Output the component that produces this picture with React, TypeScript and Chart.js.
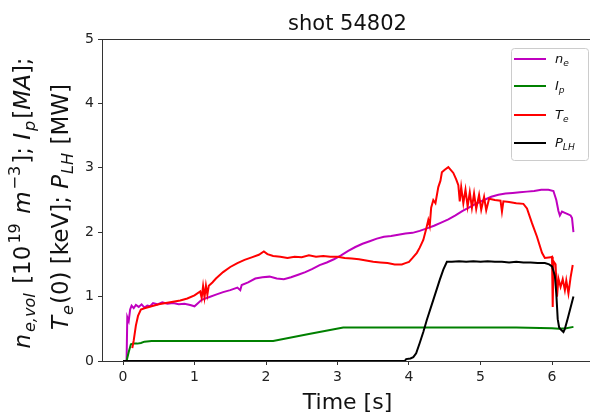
import React, { useEffect, useRef } from 'react';
import { Chart, registerables } from 'chart.js';

Chart.register(...registerables);

// ---------- data ----------
const xTicks = [0, 1, 2, 3, 4, 5, 6];
const yTicks = [0, 1, 2, 3, 4, 5];

const neTime = [0.05,0.06,0.08,0.10,0.12,0.15,0.18,0.22,0.26,0.30,0.34,0.38,0.42,0.48,0.55,0.62,0.70,0.78,0.86,0.94,1.00,1.04,1.10,1.20,1.30,1.40,1.50,1.60,1.64,1.66,1.75,1.85,1.95,2.05,2.15,2.25,2.35,2.45,2.55,2.65,2.75,2.85,2.95,3.05,3.15,3.25,3.35,3.45,3.55,3.65,3.75,3.85,3.95,4.05,4.15,4.25,4.35,4.45,4.55,4.65,4.75,4.85,4.95,5.05,5.15,5.25,5.35,5.45,5.55,5.65,5.75,5.85,5.95,6.02,6.06,6.09,6.11,6.14,6.18,6.22,6.26,6.28,6.30];
const neValues = [0,0.68,0.62,0.80,0.86,0.82,0.87,0.84,0.88,0.83,0.86,0.85,0.90,0.88,0.91,0.89,0.90,0.88,0.89,0.87,0.85,0.89,0.95,0.99,1.03,1.07,1.10,1.14,1.10,1.18,1.22,1.28,1.30,1.31,1.28,1.27,1.30,1.34,1.38,1.43,1.49,1.53,1.58,1.64,1.71,1.77,1.82,1.86,1.90,1.93,1.94,1.96,1.98,1.99,2.02,2.06,2.10,2.15,2.20,2.26,2.33,2.39,2.45,2.50,2.55,2.58,2.60,2.61,2.62,2.63,2.64,2.66,2.66,2.64,2.50,2.33,2.26,2.32,2.30,2.28,2.26,2.22,2.00];

const ipTime = [0,0.05,0.08,0.11,0.15,0.20,0.25,0.30,0.40,1.00,1.50,2.10,2.60,3.08,3.50,4.00,4.50,5.00,5.50,6.00,6.10,6.20,6.30];
const ipValues = [0,0,0.14,0.26,0.27,0.27,0.28,0.30,0.31,0.31,0.31,0.31,0.42,0.52,0.52,0.52,0.52,0.52,0.52,0.51,0.50,0.51,0.53];

const teTime = [0.13,0.15,0.18,0.21,0.25,0.30,0.40,0.50,0.60,0.70,0.80,0.90,1.00,1.08,1.10,1.12,1.14,1.16,1.18,1.20,1.25,1.30,1.40,1.50,1.60,1.70,1.80,1.90,1.97,2.02,2.10,2.20,2.30,2.40,2.50,2.60,2.70,2.80,2.90,3.00,3.10,3.20,3.30,3.40,3.50,3.60,3.70,3.80,3.90,3.95,4.00,4.05,4.11,4.15,4.20,4.24,4.27,4.29,4.31,4.34,4.37,4.41,4.44,4.46,4.50,4.55,4.62,4.66,4.69,4.71,4.73,4.76,4.79,4.82,4.85,4.88,4.91,4.94,4.98,5.01,5.05,5.08,5.12,5.20,5.28,5.30,5.32,5.40,5.50,5.60,5.65,5.72,5.79,5.86,5.90,5.98,6.00,6.01,6.02,6.05,6.07,6.09,6.12,6.15,6.18,6.20,6.23,6.26,6.29];
const teValues = [0.20,0.32,0.55,0.70,0.80,0.82,0.85,0.88,0.90,0.92,0.94,0.97,1.02,1.08,0.98,1.16,0.99,1.17,1.03,1.17,1.22,1.28,1.38,1.46,1.52,1.57,1.61,1.65,1.70,1.66,1.63,1.62,1.60,1.62,1.61,1.64,1.62,1.63,1.62,1.62,1.60,1.59,1.58,1.56,1.54,1.53,1.52,1.50,1.50,1.52,1.54,1.60,1.68,1.76,1.88,2.05,2.19,2.10,2.38,2.50,2.45,2.70,2.80,2.93,2.97,3.01,2.92,2.82,2.73,2.48,2.70,2.45,2.66,2.40,2.62,2.38,2.60,2.36,2.58,2.35,2.55,2.34,2.52,2.50,2.49,2.32,2.48,2.47,2.45,2.44,2.37,2.14,1.93,1.68,1.60,1.61,1.62,0.84,1.55,1.50,1.00,1.28,1.15,1.27,1.10,1.25,1.05,1.30,1.49];

const plhTime = [0,3.94,3.96,4.02,4.06,4.10,4.15,4.20,4.25,4.34,4.43,4.48,4.53,4.60,4.70,4.80,4.90,5.00,5.10,5.20,5.30,5.40,5.50,5.60,5.70,5.80,5.90,5.96,6.00,6.02,6.04,6.06,6.08,6.10,6.13,6.16,6.18,6.22,6.26,6.30];
const plhValues = [0,0,0.03,0.04,0.06,0.12,0.28,0.45,0.64,0.95,1.26,1.42,1.54,1.54,1.55,1.54,1.55,1.54,1.55,1.54,1.54,1.53,1.54,1.53,1.53,1.52,1.52,1.50,1.47,1.40,1.32,1.05,0.65,0.52,0.48,0.45,0.50,0.66,0.83,1.00];

const seriesNames = ['n_e', 'I_p', 'T_e', 'P_LH'];
const seriesColors = ['#bf00bf', '#008000', '#ff0000', '#000000'];

// ---------- layout ----------
const W = 610;
const H = 412;
const AREA = { left: 102, right: 593, top: 39, bottom: 361 };
const FONT = '"DejaVu Sans", sans-serif';

type Seg = { t: string; it?: boolean; sub?: boolean; sup?: boolean };

function drawRich(ctx: CanvasRenderingContext2D, segs: Seg[], base: number, x0: number, y0: number, align: 'center' | 'left', scriptGap = 0) {
  const items = segs.map((s) => {
    const size = s.sub || s.sup ? base * 0.7 : base;
    const font = `${s.it ? 'italic ' : ''}${size}px ${FONT}`;
    ctx.font = font;
    const gap = s.sub || s.sup ? scriptGap : 0;
    return { ...s, font, w: ctx.measureText(s.t).width, gap };
  });
  const total = items.reduce((a, b) => a + b.w + 2 * b.gap, 0);
  let x = align === 'center' ? x0 - total / 2 : x0;
  ctx.textAlign = 'left';
  ctx.textBaseline = 'alphabetic';
  for (const it of items) {
    ctx.font = it.font;
    x += it.gap;
    const dy = it.sub ? base * 0.22 : it.sup ? -base * 0.42 : 0;
    ctx.fillText(it.t, x, y0 + dy);
    x += it.w + it.gap;
  }
}

const yLine1: Seg[] = [
  { t: 'n', it: true }, { t: 'e,vol', it: true, sub: true }, { t: ' [10' }, { t: '19', sup: true },
  { t: ' ' }, { t: 'm', it: true }, { t: '\u22123', sup: true }, { t: ']; ' }, { t: 'I', it: true },
  { t: 'p', it: true, sub: true }, { t: '[' }, { t: 'MA', it: true }, { t: '];' },
];
const yLine2: Seg[] = [
  { t: 'T', it: true }, { t: 'e', it: true, sub: true }, { t: '(0) [keV]; ' }, { t: 'P', it: true },
  { t: 'LH', it: true, sub: true }, { t: ' [MW]' },
];
const legendLabels: Seg[][] = [
  [{ t: 'n', it: true }, { t: 'e', it: true, sub: true }],
  [{ t: 'I', it: true }, { t: 'p', it: true, sub: true }],
  [{ t: 'T', it: true }, { t: 'e', it: true, sub: true }],
  [{ t: 'P', it: true }, { t: 'LH', it: true, sub: true }],
];

const decorPlugin = {
  id: 'decor',
  afterDraw(chart: any) {
    const ctx: CanvasRenderingContext2D = chart.ctx;
    const ca = chart.chartArea;
    ctx.save();
    // top and right spines
    ctx.strokeStyle = '#333';
    ctx.lineWidth = 1;
    ctx.beginPath();
    ctx.moveTo(ca.left, Math.round(ca.top) + 0.5);
    ctx.lineTo(ca.right, Math.round(ca.top) + 0.5);
    ctx.stroke();
    ctx.beginPath();
    ctx.moveTo(Math.round(ca.right) + 0.5, ca.top);
    ctx.lineTo(Math.round(ca.right) + 0.5, ca.bottom);
    ctx.stroke();

    ctx.fillStyle = '#111';
    // title
    ctx.font = `21px ${FONT}`;
    ctx.textAlign = 'center';
    ctx.textBaseline = 'alphabetic';
    ctx.fillText('shot 54802', (ca.left + ca.right) / 2, 30);
    // x title
    ctx.font = `22px ${FONT}`;
    ctx.fillText('Time [s]', (ca.left + ca.right) / 2, 409);

    // y title
    ctx.save();
    ctx.translate(30, 203);
    ctx.rotate(-Math.PI / 2);
    drawRich(ctx, yLine1, 23, 0, 0, 'center', 2);
    ctx.restore();
    ctx.save();
    ctx.translate(68, 207);
    ctx.rotate(-Math.PI / 2);
    drawRich(ctx, yLine2, 23, 0, 0, 'center', 1);
    ctx.restore();

    // legend
    const bx = 511.5, by = 48.5, bw = 77, bh = 112;
    ctx.beginPath();
    (ctx as any).roundRect(bx, by, bw, bh, 3);
    ctx.fillStyle = 'rgba(255,255,255,0.85)';
    ctx.fill();
    ctx.strokeStyle = '#cccccc';
    ctx.lineWidth = 1;
    ctx.stroke();
    const rows = [59, 86, 115, 143];
    rows.forEach((ry, i) => {
      ctx.strokeStyle = seriesColors[i];
      ctx.lineWidth = 2;
      ctx.beginPath();
      ctx.moveTo(514, ry);
      ctx.lineTo(546, ry);
      ctx.stroke();
      ctx.fillStyle = '#111';
      drawRich(ctx, legendLabels[i], 13, 555, ry + 4, 'left');
    });
    ctx.restore();
  },
};

function zip(t: number[], v: number[]) {
  const n = Math.min(t.length, v.length);
  const out: { x: number; y: number }[] = [];
  for (let i = 0; i < n; i++) out.push({ x: t[i], y: v[i] });
  return out;
}

export default function App() {
  const ref = useRef<HTMLCanvasElement | null>(null);
  useEffect(() => {
    if (!ref.current) return;
    const tickFont = { family: FONT, size: 14 };
    const mk = (i: number, t: number[], v: number[], order: number) => ({
      label: seriesNames[i],
      data: zip(t, v),
      borderColor: seriesColors[i],
      backgroundColor: seriesColors[i],
      borderWidth: 2,
      pointRadius: 0,
      tension: 0,
      fill: false,
      order,
    });
    const chart = new Chart(ref.current, {
      type: 'line',
      data: {
        datasets: [
          mk(0, neTime, neValues, 4),
          mk(1, ipTime, ipValues, 3),
          mk(2, teTime, teValues, 2),
          mk(3, plhTime, plhValues, 1),
        ],
      },
      options: {
        responsive: false,
        animation: false,
        devicePixelRatio: 1,
        parsing: false,
        layout: { padding: { left: 0, top: AREA.top, right: W - AREA.right, bottom: 0 } },
        plugins: { legend: { display: false }, tooltip: { enabled: false }, title: { display: false } },
        scales: {
          x: {
            type: 'linear',
            min: (AREA.left - 123) / 71.5,
            max: (AREA.right - 123) / 71.5,
            afterBuildTicks: (s: any) => { s.ticks = xTicks.map((v) => ({ value: v })); },
            afterFit: (s: any) => { s.height = H - AREA.bottom; },
            grid: { drawOnChartArea: false, drawTicks: true, tickLength: 4, color: '#333' },
            border: { color: '#333', width: 1 },
            ticks: { font: tickFont, color: '#222', padding: 4, maxRotation: 0, autoSkip: false, callback: (v: any) => String(v) },
          },
          y: {
            type: 'linear',
            min: 0,
            max: 5,
            afterBuildTicks: (s: any) => { s.ticks = yTicks.map((v) => ({ value: v })); },
            afterFit: (s: any) => { s.width = AREA.left; },
            grid: { drawOnChartArea: false, drawTicks: true, tickLength: 4, color: '#333' },
            border: { color: '#333', width: 1 },
            ticks: { font: tickFont, color: '#222', padding: 4, autoSkip: false, callback: (v: any) => String(v) },
          },
        },
      },
      plugins: [decorPlugin],
    } as any);
    return () => chart.destroy();
  }, []);
  return (
    <div style={{ position: 'fixed', left: 0, top: 0, width: 590, height: 412, overflow: 'hidden', background: '#fff' }}>
      <canvas ref={ref} width={W} height={H} style={{ width: W, height: H, display: 'block' }} />
    </div>
  );
}
